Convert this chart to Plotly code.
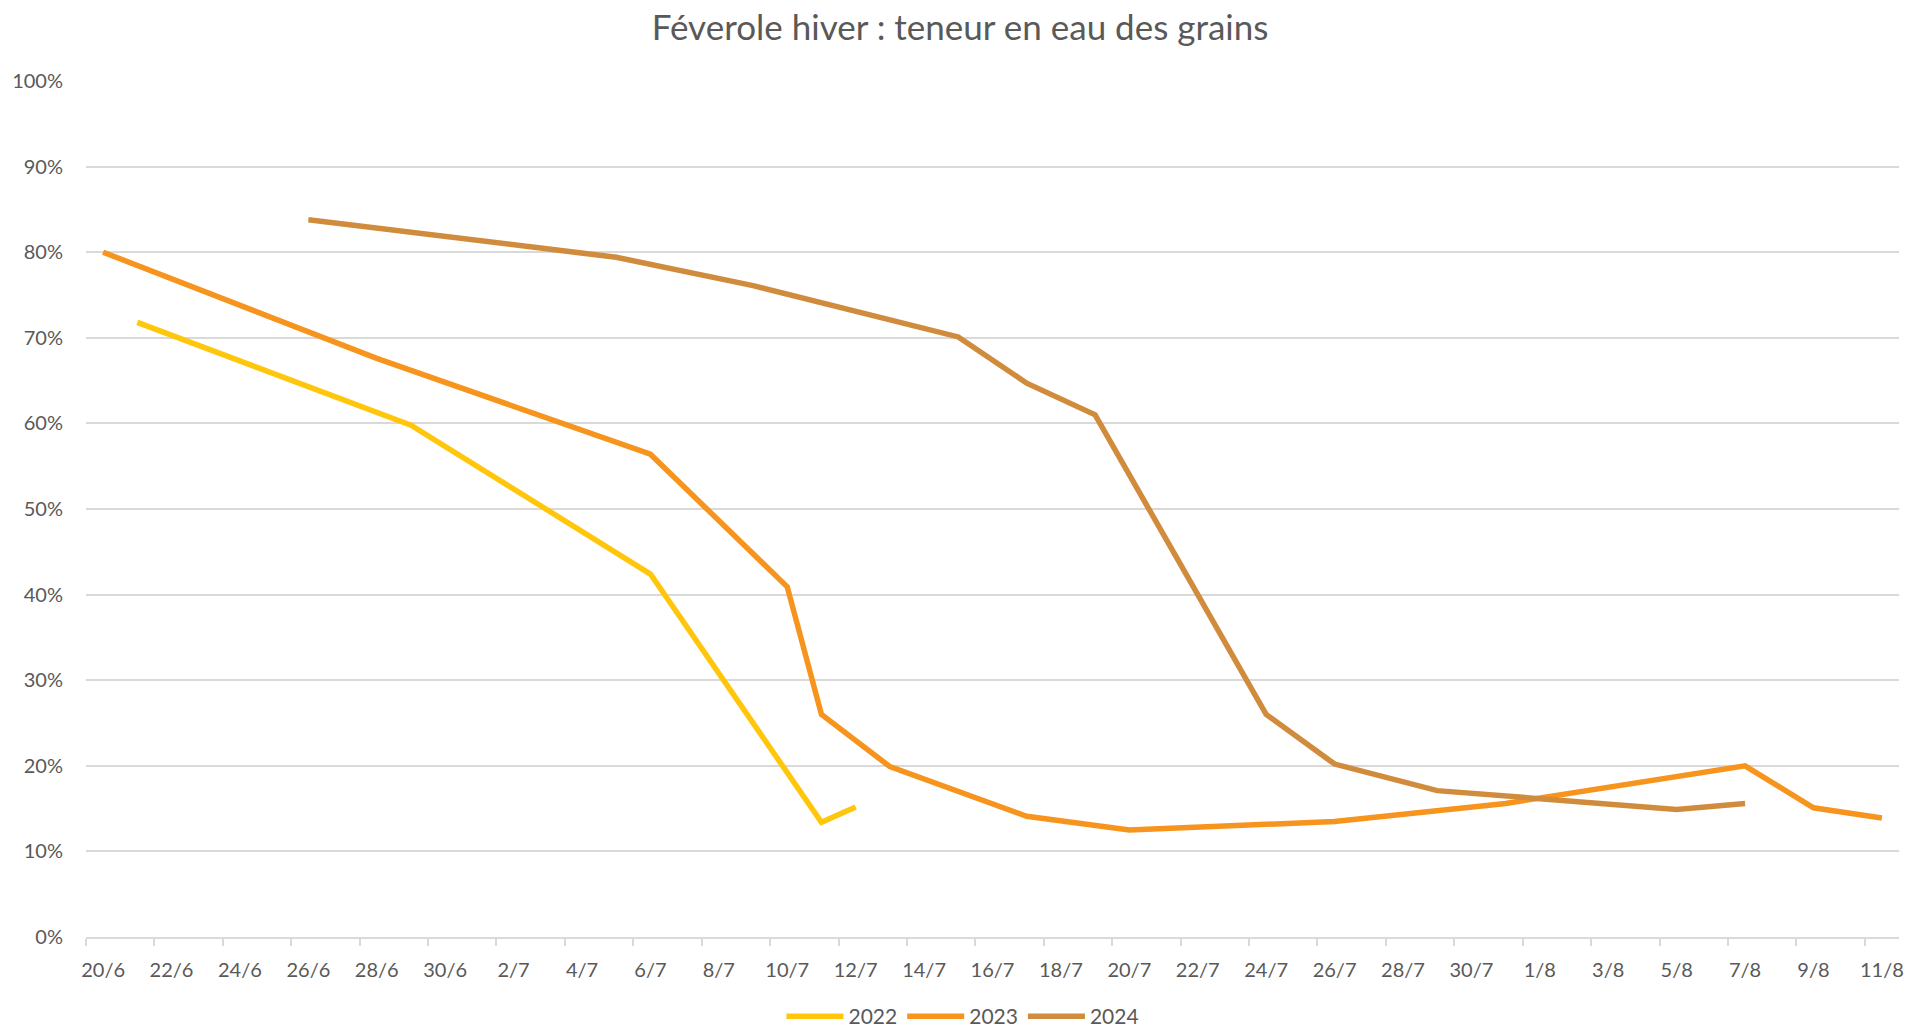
import pandas as pd
import plotly.graph_objects as go

# teneur en eau des grains (%), dates jour/mois ramenées sur une année commune
dates_2022 = ["21/6", "29/6", "6/7", "11/7", "12/7"]
eau_2022 = [71.8, 59.8, 42.4, 13.4, 15.2]

dates_2023 = ["20/6", "28/6", "6/7", "10/7", "11/7", "13/7", "17/7", "20/7",
              "26/7", "31/7", "7/8", "9/8", "11/8"]
eau_2023 = [80.0, 67.6, 56.4, 40.9, 26.0, 19.9, 14.1, 12.5,
            13.5, 15.6, 20.0, 15.1, 13.9]

dates_2024 = ["26/6", "5/7", "9/7", "15/7", "17/7", "19/7", "24/7", "26/7",
              "29/7", "5/8", "7/8"]
eau_2024 = [83.8, 79.4, 76.1, 70.1, 64.7, 61.0, 26.0, 20.2,
            17.1, 14.9, 15.6]

couleurs = {"2022": "#FFC60B", "2023": "#F7941D", "2024": "#D08C3C"}
gris = "#595959"
police = "Lato"


def en_date(liste):
    return pd.to_datetime(["2023/" + "/".join(reversed(d.split("/"))) for d in liste])


jours = pd.date_range("2023-06-20", "2023-08-11", freq="2D")
ticks_texte = [f"{d.day}/{d.month}" for d in jours]
bords = jours - pd.Timedelta(hours=12)

fig = go.Figure()
for annee, dates, vals in [("2022", dates_2022, eau_2022),
                           ("2023", dates_2023, eau_2023),
                           ("2024", dates_2024, eau_2024)]:
    fig.add_trace(go.Scatter(x=en_date(dates), y=[v / 100 for v in vals], mode="lines",
                             name=annee, line=dict(color=couleurs[annee], width=5.5)))

fig.update_layout(
    width=1908, height=1031,
    margin=dict(l=86, r=9, t=81, b=94),
    paper_bgcolor="white", plot_bgcolor="white",
    font=dict(family=police, color=gris, size=20),
    title=dict(text="Féverole hiver : teneur en eau des grains", xref="container", x=0.5032,
               yref="container", y=0.9735, yanchor="middle", xanchor="center",
               font=dict(family=police, size=35, color=gris)),
    legend=dict(orientation="h", xref="container", xanchor="center", x=0.5047,
                yref="container", yanchor="middle", y=0.014,
                font=dict(size=21, color=gris), itemwidth=57, traceorder="normal"),
)

fig.update_xaxes(
    type="date", automargin=False,
    range=["2023-06-19 12:00", "2023-08-11 12:00"],
    tickmode="array", tickvals=jours, ticktext=ticks_texte,
    ticks="", showgrid=False, zeroline=False,
    showline=True, linecolor="#D9D9D9", linewidth=2,
    ticklabelstandoff=14,
    minor=dict(tickmode="array", tickvals=bords, ticks="outside", ticklen=7,
               tickcolor="#D9D9D9", tickwidth=2, showgrid=False),
)
fig.update_yaxes(
    range=[0, 1], tickmode="linear", tick0=0, dtick=0.1, tickformat=".0%",
    automargin=False,
    showgrid=True, gridcolor="#D9D9D9", gridwidth=1.5, zeroline=False,
    ticks="", ticklabelstandoff=22, showline=False,
)

fig.write_html("out.html", config={"displayModeBar": False},
               post_script="document.body.style.margin = '0';")
